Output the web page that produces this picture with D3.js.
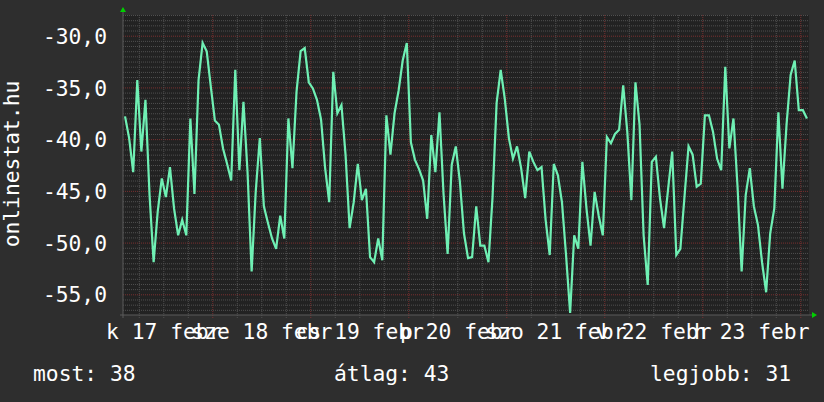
<!DOCTYPE html>
<html><head><meta charset="utf-8">
<script src="https://cdn.jsdelivr.net/npm/d3@7"></script>
<style>
html,body{margin:0;padding:0;background:#2e2e2e;}
svg{display:block;}
text{font-family:"DejaVu Sans Mono",monospace;fill:#ffffff;}
</style></head>
<body>
<svg id="chart" width="824" height="402"></svg>
<script>
// ---- data ----
const startTime = Date.UTC(2015, 1, 17, 2, 8);   // left edge of the plot
const hoursShown = 168;
const values = [
 -37.8,-39.9,-43.2,-34.3,-41.2,-36.2,-45.4,-51.9,-47.0,-43.8,
 -45.6,-42.7,-46.7,-49.3,-47.8,-49.3,-38.0,-45.3,-34.3,-30.7,
 -31.5,-34.9,-38.2,-38.6,-40.9,-42.4,-44.0,-33.3,-43.0,-36.4,
 -43.2,-52.8,-45.1,-39.9,-46.5,-48.1,-49.6,-50.6,-47.4,-49.6,
 -38.0,-42.8,-35.4,-31.5,-31.2,-34.5,-35.1,-36.2,-38.1,-42.8,
 -46.1,-33.5,-37.5,-36.7,-41.5,-48.6,-46.1,-42.4,-45.9,-44.8,
 -51.4,-51.9,-49.6,-51.7,-37.7,-41.5,-37.5,-35.3,-32.4,-30.7,
 -40.3,-42.0,-42.9,-44.0,-47.7,-39.6,-43.2,-37.4,-45.3,-51.1,
 -42.5,-40.7,-44.1,-49.1,-51.5,-51.4,-46.5,-50.3,-50.3,-51.9,
 -45.6,-36.5,-33.3,-36.1,-39.9,-41.9,-40.7,-42.8,-45.7,-41.2,
 -42.2,-43.0,-42.7,-47.8,-51.2,-42.4,-43.5,-46.1,-51.2,-56.8,
 -49.3,-50.6,-42.2,-46.7,-50.3,-45.1,-47.4,-49.3,-39.8,-40.4,
 -39.5,-39.1,-34.8,-39.3,-45.9,-34.5,-38.6,-49.3,-54.1,-42.2,
 -41.7,-45.7,-48.6,-44.8,-41.2,-51.2,-50.6,-45.6,-40.7,-41.5,
 -44.6,-44.3,-37.7,-37.7,-39.3,-41.9,-43.0,-33.0,-40.9,-38.0,
 -44.6,-52.8,-45.4,-42.8,-46.5,-48.3,-51.9,-54.8,-49.1,-46.7,
 -37.4,-44.8,-38.6,-33.8,-32.4,-37.2,-37.2,-38.0
];
const yDomain = [-57, -28];
const yLabelTicks = [-55, -50, -45, -40, -35, -30];
const yTitle = "onlinestat.hu";
const legendLabels = ["most", "átlag", "legjobb"];
const legendValues = [38, 43, 31];

// ---- locale ----
const huNum = d3.formatLocale({decimal: ",", thousands: " ", grouping: [3], currency: ["", " Ft"], minus: "-"});
const huTime = d3.timeFormatLocale({
  dateTime: "%Y. %B %-e., %A %X", date: "%Y. %m. %d.", time: "%H:%M:%S",
  periods: ["de.", "du."],
  days: ["vasárnap","hétfő","kedd","szerda","csütörtök","péntek","szombat"],
  shortDays: ["v","h","k","sze","cs","p","szo"],
  months: ["január","február","március","április","május","június","július","augusztus","szeptember","október","november","december"],
  shortMonths: ["jan","febr","márc","ápr","máj","jún","júl","aug","szept","okt","nov","dec"]
});
const fmtY = huNum.format(".1f");
const fmtX = huTime.utcFormat("%a %d %b");

// ---- layout ----
const svg = d3.select("#chart");
const L = 123, R = 809, T = 15, B = 315;
const HOUR = 3600e3;
const endTime = startTime + hoursShown * HOUR;
const x = d3.scaleUtc().domain([startTime, endTime]).range([L, R]);
const y = d3.scaleLinear().domain(yDomain).range([B, T]);
const times = values.map((v, i) => new Date(startTime + (i + 0.5) * HOUR));

svg.append("rect").attr("width", 824).attr("height", 402).attr("fill", "#2e2e2e");
svg.append("rect").attr("x", L).attr("y", T).attr("width", R - L).attr("height", B - T).attr("fill", "#222222");

// grid: minor horizontal
const minorY = d3.range(yDomain[0] + 0.5, yDomain[1] + 0.001, 0.5).filter(v => Math.abs(v % 5) > 0.01);
const majorY = d3.range(-55, yDomain[1] + 0.001, 5);
const gH = svg.append("g").attr("transform", `translate(${L},0)`)
  .call(d3.axisRight(y).tickValues(minorY).tickSize(R - L).tickFormat(""));
gH.select(".domain").remove();
gH.selectAll("line").attr("stroke", "#505050").attr("stroke-dasharray", "1,1");
const gHM = svg.append("g").attr("transform", `translate(${L},0)`)
  .call(d3.axisRight(y).tickValues(majorY).tickSize(R - L).tickFormat(""));
gHM.select(".domain").remove();
gHM.selectAll("line").attr("stroke", "#7a3030").attr("stroke-dasharray", "1,1");

// grid: vertical
const sixHours = d3.utcHour.every(6).range(new Date(startTime), new Date(endTime));
const minorX = sixHours.filter(d => d.getUTCHours() !== 0);
const majorX = sixHours.filter(d => d.getUTCHours() === 0);
const gV = svg.append("g").attr("transform", `translate(0,${T})`)
  .call(d3.axisBottom(x).tickValues(minorX).tickSize(B - T + 3).tickFormat(""));
gV.select(".domain").remove();
gV.selectAll("line").attr("stroke", "#505050").attr("stroke-dasharray", "1,1");
const gVM = svg.append("g").attr("transform", `translate(0,${T})`)
  .call(d3.axisBottom(x).tickValues(majorX).tickSize(B - T + 3).tickFormat(""));
gVM.select(".domain").remove();
gVM.selectAll("line").attr("stroke", "#7a3030").attr("stroke-dasharray", "1,1");

// axis lines
svg.append("line").attr("x1", L).attr("x2", L).attr("y1", T - 4).attr("y2", B + 3).attr("stroke", "#5a5a5a");
svg.append("line").attr("x1", L - 3).attr("x2", R + 3).attr("y1", B).attr("y2", B).attr("stroke", "#5a5a5a");
svg.append("path").attr("d", `M${L - 3},${T - 3} L${L + 3},${T - 3} L${L},${T - 8} Z`).attr("fill", "#00d000");
svg.append("path").attr("d", `M${R + 3},${B - 3} L${R + 3},${B + 3} L${R + 8},${B} Z`).attr("fill", "#00d000");

// y labels
const gY = svg.append("g").attr("transform", `translate(107,0)`)
  .call(d3.axisLeft(y).tickValues(yLabelTicks).tickSize(0).tickPadding(0).tickFormat(fmtY));
gY.select(".domain").remove();
gY.selectAll("text").attr("font-size", "21.3px").attr("fill", "#fff")
  .attr("font-family", "DejaVu Sans Mono").attr("dy", "0.36em");

// x labels at noon
const noons = d3.utcDay.range(d3.utcDay.floor(new Date(startTime)), new Date(endTime)).map(d => d3.utcHour.offset(d, 12))
  .filter(d => +d > startTime && +d < endTime);
const gX = svg.append("g").attr("transform", `translate(0,${B})`)
  .call(d3.axisBottom(x).tickValues(noons).tickSize(0).tickPadding(0).tickFormat(fmtX));
gX.select(".domain").remove();
gX.selectAll("text").attr("font-size", "21.3px").attr("fill", "#fff")
  .attr("font-family", "DejaVu Sans Mono").attr("dy", null).attr("y", 24);

// y title
svg.append("text").attr("transform", `translate(19,${(T + B) / 2 - 1}) rotate(-90)`)
  .attr("text-anchor", "middle").attr("font-size", "21.3px").text(yTitle);

// line
const line = d3.line().x((d, i) => x(times[i])).y(d => y(d));
svg.append("path").datum(values).attr("d", line).attr("fill", "none")
  .attr("stroke", "#6ff0b4").attr("stroke-width", 2.2).attr("stroke-linejoin", "miter");

// legend
const legendX = [33, 334, 650];
legendLabels.forEach((lab, i) => {
  svg.append("text").attr("x", legendX[i]).attr("y", 381).attr("font-size", "21.3px")
    .text(`${lab}: ${legendValues[i]}`);
});
</script>
</body></html>
